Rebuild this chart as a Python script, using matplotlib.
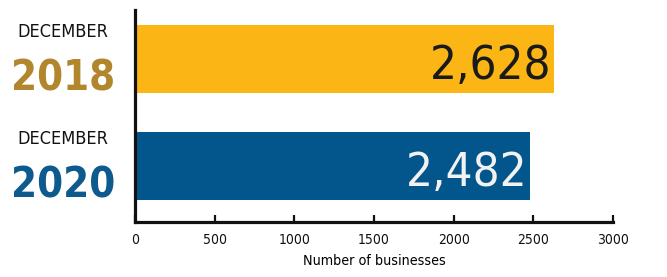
"""Horizontal bar chart: number of businesses, December 2018 vs December 2020."""

import matplotlib

matplotlib.use("Agg")
import matplotlib.pyplot as plt
import matplotlib.transforms as mtransforms

FONT = ["DejaVu Sans"]

years = ["2018", "2020"]
months = ["DECEMBER", "DECEMBER"]
businesses = [2628, 2482]
value_labels = ["2,628", "2,482"]
xticks = [0, 500, 1000, 1500, 2000, 2500, 3000]

bar_colors = ["#FBB616", "#02568C"]
year_colors = ["#B1862D", "#0D5B8E"]
value_colors = ["#1A1A1A", "#F2F2F2"]

plt.rcParams["font.family"] = FONT
plt.rcParams["font.stretch"] = "condensed"

fig = plt.figure(figsize=(6.67, 2.77), dpi=100)
ax = fig.add_axes([0.2024, 0.1986, 0.7166, 0.7654])

ypos = [1, 0]
ax.barh(ypos, businesses, height=0.636, color=bar_colors)

ax.set_xlim(0, 3000)
ax.set_ylim(-0.523, 1.458)
ax.set_yticks([])
ax.set_xticks(xticks)
ax.set_xticklabels([str(t) for t in xticks], fontsize=10)
ax.tick_params(axis="x", direction="in", length=5, width=1.6, pad=8, colors="#111111")

for side in ("top", "right"):
    ax.spines[side].set_visible(False)
for side in ("left", "bottom"):
    ax.spines[side].set_linewidth(2.3)
    ax.spines[side].set_color("#111111")

ax.set_xlabel("Number of businesses", fontsize=10.3, labelpad=5)

# value labels inside the bars
for y, v, lab, c in zip(ypos, businesses, value_labels, value_colors):
    ax.annotate(lab, xy=(v, y - 0.19), xytext=(-2, 0), textcoords="offset points",
                ha="right", va="baseline", fontsize=34, color=c)

# left side category labels
trans = mtransforms.blended_transform_factory(fig.transFigure, ax.transData)
for y, m, yr, c in zip(ypos, months, years, year_colors):
    ax.text(0.0945, y + 0.206, m, transform=trans, ha="center", va="baseline",
            fontsize=13, color="#111111")
    ax.text(0.0945, y - 0.29, yr, transform=trans, ha="center", va="baseline",
            fontsize=30, fontweight="bold", color=c)

fig.savefig("out.png", dpi=100)
